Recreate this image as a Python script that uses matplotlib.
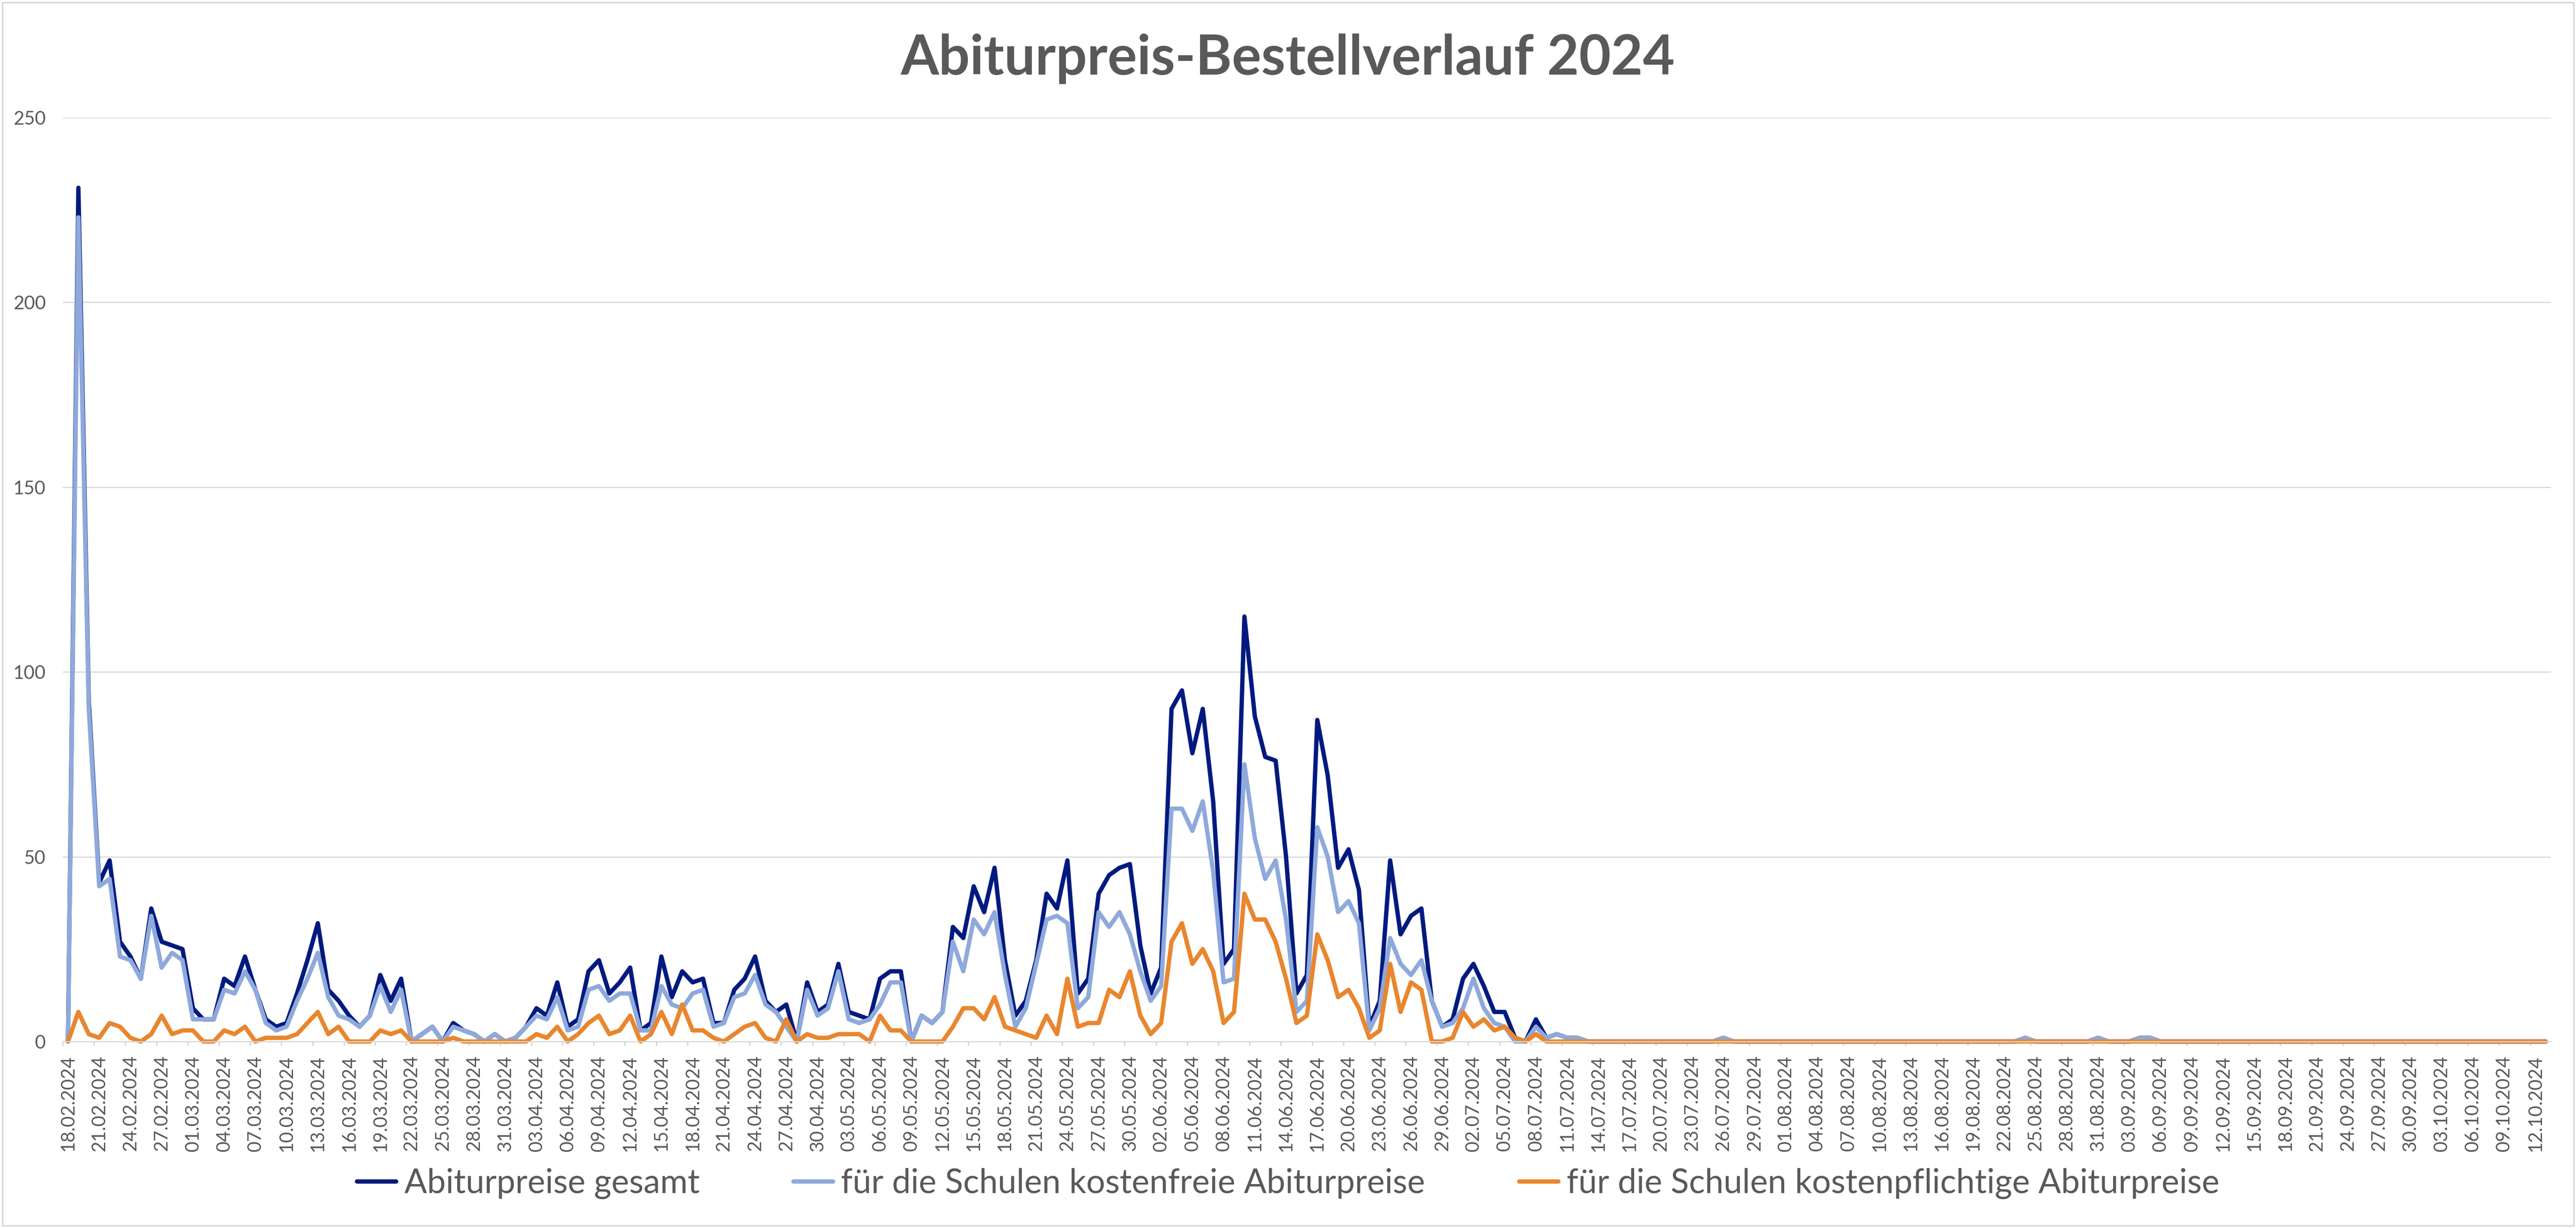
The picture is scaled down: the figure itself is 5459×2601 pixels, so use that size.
import numpy as np
import pandas as pd
import matplotlib
matplotlib.use("Agg")
import matplotlib.pyplot as plt
from matplotlib.patches import Rectangle

plt.rcParams["font.family"] = ["Lato", "DejaVu Sans"]

# one value per day, 18.02.2024 - 13.10.2024
dates = pd.date_range("2024-02-18", "2024-10-13", freq="D")
date_labels = list(dates.strftime("%d.%m.%Y"))

gesamt = [
    0, 231, 92, 43, 49, 27, 23, 17, 36, 27, 26, 25, 9, 6, 6, 17, 15, 23, 14, 6,
    4, 5, 13, 22, 32, 14, 11, 7, 4, 7, 18, 11, 17, 0, 2, 4, 0, 5, 3, 2,
    0, 2, 0, 1, 4, 9, 7, 16, 4, 6, 19, 22, 13, 16, 20, 3, 5, 23, 12, 19,
    16, 17, 5, 5, 14, 17, 23, 11, 8, 10, 0, 16, 8, 10, 21, 8, 7, 6, 17, 19,
    19, 0, 7, 5, 8, 31, 28, 42, 35, 47, 22, 7, 11, 22, 40, 36, 49, 13, 17, 40,
    45, 47, 48, 26, 13, 20, 90, 95, 78, 90, 65, 21, 25, 115, 88, 77, 76, 50, 13, 18,
    87, 72, 47, 52, 41, 4, 11, 49, 29, 34, 36, 11, 4, 6, 17, 21, 15, 8, 8, 1,
    0, 6, 1, 2, 1, 1, 0, 0, 0, 0, 0, 0, 0, 0, 0, 0, 0, 0, 0, 1,
    0, 0, 0, 0, 0, 0, 0, 0, 0, 0, 0, 0, 0, 0, 0, 0, 0, 0, 0, 0,
    0, 0, 0, 0, 0, 0, 0, 0, 1, 0, 0, 0, 0, 0, 0, 1, 0, 0, 0, 1,
    1, 0, 0, 0, 0, 0, 0, 0, 0, 0, 0, 0, 0, 0, 0, 0, 0, 0, 0, 0,
    0, 0, 0, 0, 0, 0, 0, 0, 0, 0, 0, 0, 0, 0, 0, 0, 0, 0, 0,
]

kostenfrei = [
    0, 223, 90, 42, 44, 23, 22, 17, 34, 20, 24, 22, 6, 6, 6, 14, 13, 19, 14, 5,
    3, 4, 11, 17, 24, 12, 7, 6, 4, 7, 15, 8, 14, 0, 2, 4, 0, 4, 3, 2,
    0, 2, 0, 1, 4, 7, 6, 12, 3, 4, 14, 15, 11, 13, 13, 3, 3, 15, 10, 9,
    13, 14, 4, 5, 12, 13, 18, 10, 8, 4, 0, 14, 7, 9, 19, 6, 5, 6, 10, 16,
    16, 0, 7, 5, 8, 27, 19, 33, 29, 35, 18, 4, 9, 21, 33, 34, 32, 9, 12, 35,
    31, 35, 29, 19, 11, 15, 63, 63, 57, 65, 46, 16, 17, 75, 55, 44, 49, 33, 8, 11,
    58, 50, 35, 38, 32, 3, 9, 28, 21, 18, 22, 11, 4, 5, 9, 17, 9, 5, 4, 0,
    0, 4, 1, 2, 1, 1, 0, 0, 0, 0, 0, 0, 0, 0, 0, 0, 0, 0, 0, 1,
    0, 0, 0, 0, 0, 0, 0, 0, 0, 0, 0, 0, 0, 0, 0, 0, 0, 0, 0, 0,
    0, 0, 0, 0, 0, 0, 0, 0, 1, 0, 0, 0, 0, 0, 0, 1, 0, 0, 0, 1,
    1, 0, 0, 0, 0, 0, 0, 0, 0, 0, 0, 0, 0, 0, 0, 0, 0, 0, 0, 0,
    0, 0, 0, 0, 0, 0, 0, 0, 0, 0, 0, 0, 0, 0, 0, 0, 0, 0, 0,
]

kostenpflichtig = [
    0, 8, 2, 1, 5, 4, 1, 0, 2, 7, 2, 3, 3, 0, 0, 3, 2, 4, 0, 1,
    1, 1, 2, 5, 8, 2, 4, 0, 0, 0, 3, 2, 3, 0, 0, 0, 0, 1, 0, 0,
    0, 0, 0, 0, 0, 2, 1, 4, 0, 2, 5, 7, 2, 3, 7, 0, 2, 8, 2, 10,
    3, 3, 1, 0, 2, 4, 5, 1, 0, 6, 0, 2, 1, 1, 2, 2, 2, 0, 7, 3,
    3, 0, 0, 0, 0, 4, 9, 9, 6, 12, 4, 3, 2, 1, 7, 2, 17, 4, 5, 5,
    14, 12, 19, 7, 2, 5, 27, 32, 21, 25, 19, 5, 8, 40, 33, 33, 27, 17, 5, 7,
    29, 22, 12, 14, 9, 1, 3, 21, 8, 16, 14, 0, 0, 1, 8, 4, 6, 3, 4, 1,
    0, 2, 0, 0, 0, 0, 0, 0, 0, 0, 0, 0, 0, 0, 0, 0, 0, 0, 0, 0,
    0, 0, 0, 0, 0, 0, 0, 0, 0, 0, 0, 0, 0, 0, 0, 0, 0, 0, 0, 0,
    0, 0, 0, 0, 0, 0, 0, 0, 0, 0, 0, 0, 0, 0, 0, 0, 0, 0, 0, 0,
    0, 0, 0, 0, 0, 0, 0, 0, 0, 0, 0, 0, 0, 0, 0, 0, 0, 0, 0, 0,
    0, 0, 0, 0, 0, 0, 0, 0, 0, 0, 0, 0, 0, 0, 0, 0, 0, 0, 0,
]

series_labels = [
    "Abiturpreise gesamt",
    "für die Schulen kostenfreie Abiturpreise",
    "für die Schulen kostenpflichtige Abiturpreise",
]
series_colors = ["#001A7F", "#8EA9DB", "#E9862E"]

GREY_TEXT = "#595959"
GREY_LINE = "#D9D9D9"
W, H = 5459, 2601
DPI = 300

fig = plt.figure(figsize=(W / DPI, H / DPI), dpi=DPI)
# plot area in pixels: left 133, right 5406, top 249, bottom 2206
ax = fig.add_axes([133 / W, 1 - 2206 / H, (5406 - 133) / W, (2206 - 249) / H])

x = np.arange(len(dates))
for values, label, color in zip([gesamt, kostenfrei, kostenpflichtig], series_labels, series_colors):
    ax.plot(x, values, color=color, lw=2.2, label=label, clip_on=False,
            solid_capstyle="round", solid_joinstyle="round")

ax.set_xlim(-0.5, len(dates) - 0.5)
ax.set_ylim(0, 250)
ax.set_yticks(range(0, 251, 50))
ax.yaxis.grid(True, color=GREY_LINE, lw=0.6)
ax.set_axisbelow(True)
for side in ["top", "right", "left"]:
    ax.spines[side].set_visible(False)
ax.spines["bottom"].set_color(GREY_LINE)
ax.spines["bottom"].set_linewidth(0.6)

ax.set_xticks(x[::3])
ax.set_xticklabels(date_labels[::3], rotation=90)
ax.set_xticks(np.arange(-0.5, len(dates), 3), minor=True)
ax.tick_params(axis="x", which="major", length=0, pad=7.0, labelsize=9.5, labelcolor=GREY_TEXT)
ax.tick_params(axis="x", which="minor", length=2.2, width=0.7, color=GREY_LINE)
ax.tick_params(axis="y", length=0, pad=8.6, labelsize=9.5, labelcolor=GREY_TEXT)

fig.text(0.5, 1 - 125 / H, "Abiturpreis-Bestellverlauf 2024", ha="center", va="center",
         fontsize=28, fontweight="bold", color=GREY_TEXT)

fig.legend(loc="center", bbox_to_anchor=(0.5, 1 - 2507 / H), ncol=3, frameon=False,
           fontsize=17, handlelength=1.18, handletextpad=0.25, columnspacing=2.8,
           labelcolor=GREY_TEXT)

fig.add_artist(Rectangle((0.001, 0.002), 0.998, 0.996, transform=fig.transFigure,
                         fill=False, edgecolor=GREY_LINE, lw=0.8))

fig.savefig("out.png", dpi=DPI)
